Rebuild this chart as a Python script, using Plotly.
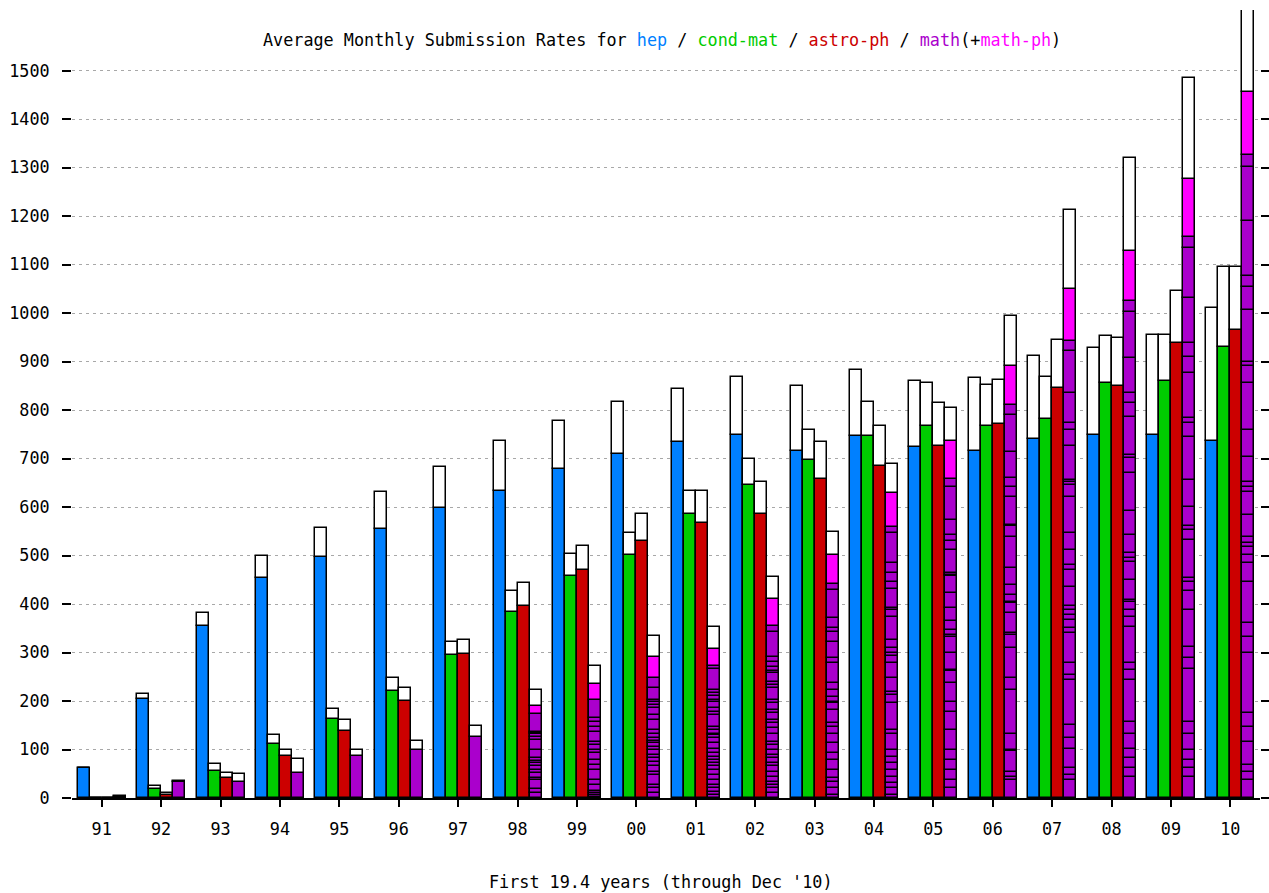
import plotly.graph_objects as go

# ---------------- data ----------------
years = ['91', '92', '93', '94', '95', '96', '97', '98', '99', '00',
         '01', '02', '03', '04', '05', '06', '07', '08', '09', '10']

hep_base = [62, 204, 354, 453, 496, 555, 599, 633, 678, 709,
            734, 748, 716, 746, 723, 716, 741, 749, 748, 737]
hep_total = [62, 214, 381, 499, 557, 631, 682, 737, 778, 817,
             844, 868, 849, 882, 859, 866, 912, 928, 955, 1010]

condmat_base = [0, 18, 56, 111, 162, 221, 294, 383, 457, 501,
                585, 646, 696, 746, 768, 768, 782, 856, 859, 931]
condmat_total = [0, 25, 70, 129, 184, 247, 321, 426, 503, 547,
                 633, 699, 758, 817, 856, 852, 869, 952, 955, 1094]

astro_base = [0, 6, 41, 87, 138, 201, 297, 395, 470, 529,
              567, 585, 658, 685, 726, 772, 845, 849, 939, 966]
astro_total = [0, 11, 52, 100, 160, 226, 325, 444, 520, 585,
               633, 651, 734, 768, 814, 862, 945, 948, 1046, 1094]

math_base = [3, 32, 32, 52, 87, 100, 125, 173, 203, 248,
             273, 355, 441, 558, 658, 811, 943, 1025, 1156, 1326]
math_with_mathph = [3, 32, 32, 52, 87, 100, 125, 190, 235, 290,
                    308, 410, 501, 628, 736, 890, 1050, 1129, 1277, 1456]
math_total = [5, 36, 49, 80, 98, 118, 149, 222, 273, 335,
              353, 456, 549, 688, 804, 994, 1212, 1319, 1485, 1720]

# cumulative boundaries between math subject classes inside the purple bar
math_subject_bounds = [
    [], [], [], [], [], [], [],
    [10, 18, 37, 42, 51, 58, 65, 73, 77, 82, 99, 120, 126, 132, 135, 137],
    [3, 7, 11, 15, 27, 37, 58, 68, 78, 92, 99, 109, 116, 137, 147, 157, 164, 166],
    [10, 20, 27, 47, 54, 65, 75, 82, 89, 99, 106, 113, 118, 123, 133, 140, 161,
     171, 185, 192, 199, 203, 226],
    [6, 13, 20, 27, 37, 47, 58, 65, 72, 78, 85, 92, 102, 113, 123, 129, 133, 140,
     147, 171, 178, 185, 197, 202, 210, 216, 223, 267],
    [10, 20, 27, 34, 44, 54, 65, 72, 82, 89, 99, 109, 116, 133, 144, 154, 161, 175,
     181, 195, 202, 226, 233, 240, 257, 261, 271, 281, 291, 342],
    [6, 20, 34, 41, 58, 78, 92, 113, 133, 147, 154, 182, 195, 199, 209, 223, 237,
     278, 288, 322, 343, 350, 371, 429],
    [6, 20, 30, 44, 58, 72, 85, 99, 133, 140, 195, 212, 219, 247, 278, 292, 298,
     309, 326, 374, 388, 391, 432, 446, 463, 484, 546],
    [20, 37, 58, 78, 99, 140, 178, 199, 237, 261, 264, 298, 333, 336, 347, 364,
     391, 422, 457, 460, 463, 512, 529, 542, 573, 642],
    [37, 44, 54, 96, 99, 133, 223, 247, 309, 336, 340, 381, 402, 405, 419, 439,
     474, 539, 560, 563, 621, 642, 659, 714, 790],
    [37, 48, 61, 102, 123, 151, 243, 254, 278, 340, 350, 367, 377, 388, 395, 436,
     470, 481, 512, 546, 621, 646, 652, 656, 725, 759, 773, 835, 921],
    [44, 61, 82, 102, 133, 157, 243, 264, 278, 353, 374, 388, 405, 408, 450, 487,
     494, 505, 542, 591, 670, 701, 707, 786, 814, 835, 907, 1003],
    [44, 61, 78, 99, 133, 157, 267, 288, 312, 388, 426, 446, 453, 532, 553, 560,
     601, 656, 745, 773, 783, 876, 910, 939, 1032, 1135],
    [37, 54, 68, 116, 147, 175, 298, 333, 360, 446, 484, 501, 518, 525, 539, 584,
     632, 642, 652, 704, 759, 855, 890, 900, 1006, 1053, 1077, 1189, 1302],
]

y_ticks = list(range(0, 1501, 100))

# ---------------- styling ----------------
C_HEP = '#0080ff'
C_COND = '#00cc00'
C_ASTRO = '#cc0000'
C_MATH = '#aa00cc'
C_MATHPH = '#ff00ff'
FONT = 'DejaVu Sans Mono'
FS = 16.8
BAR_W = 12 / 59.4
LINE = dict(color='black', width=1.5)

fig = go.Figure()
idx = list(range(len(years)))


def add_bar(xs, bases, heights, color):
    fig.add_trace(go.Bar(
        x=xs, y=heights, base=bases, width=BAR_W,
        marker=dict(color=color, line=LINE),
        showlegend=False, hoverinfo='skip'))


series = [
    (hep_base, hep_total, C_HEP, -1.5),
    (condmat_base, condmat_total, C_COND, -0.5),
    (astro_base, astro_total, C_ASTRO, 0.5),
]
for base_vals, tot_vals, col, off in series:
    xs = [i + off * BAR_W for i in idx]
    add_bar(xs, [0] * len(idx), base_vals, col)
    add_bar(xs, base_vals, [t - b for t, b in zip(tot_vals, base_vals)], 'white')

# math: purple split into subject classes
mx, mb, mh = [], [], []
for i in idx:
    bounds = [0] + [b for b in math_subject_bounds[i] if b < math_base[i]] + [math_base[i]]
    for lo, hi in zip(bounds[:-1], bounds[1:]):
        mx.append(i + 1.5 * BAR_W)
        mb.append(lo)
        mh.append(hi - lo)
add_bar(mx, mb, mh, C_MATH)
xs_m = [i + 1.5 * BAR_W for i in idx]
add_bar(xs_m, math_base, [p - b for p, b in zip(math_with_mathph, math_base)], C_MATHPH)
add_bar(xs_m, math_with_mathph, [t - p for t, p in zip(math_total, math_with_mathph)], 'white')

title_html = ('Average Monthly Submission Rates for '
              f'<span style="color:{C_HEP}">hep</span> / '
              f'<span style="color:{C_COND}">cond-mat</span> / '
              f'<span style="color:{C_ASTRO}">astro-ph</span> / '
              f'<span style="color:{C_MATH}">math</span>(+'
              f'<span style="color:{C_MATHPH}">math-ph</span>)')

fig.update_layout(
    width=1269, height=893,
    margin=dict(l=72, r=9, t=10, b=95),
    paper_bgcolor='white', plot_bgcolor='white',
    barmode='overlay', bargap=0,
    font=dict(family=FONT, size=FS, color='black'),
    showlegend=False,
    annotations=[
        dict(text=title_html, xref='paper', yref='paper', x=0.497, y=0.962,
             xanchor='center', yanchor='middle', showarrow=False,
             font=dict(family=FONT, size=FS, color='black')),
        dict(text="First 19.4 years (through Dec '10)", xref='paper', yref='paper',
             x=0.4958, y=-0.1066, xanchor='center', yanchor='middle', showarrow=False,
             font=dict(family=FONT, size=FS, color='black')),
    ],
)

fig.update_xaxes(
    range=[-0.5, len(years) - 0.5],
    tickmode='array', tickvals=idx, ticktext=years,
    ticks='outside', ticklen=7, tickwidth=1.5, tickcolor='black',
    showline=True, linecolor='black', linewidth=1.5,
    showgrid=False, zeroline=False,
    ticklabelstandoff=8,
    tickfont=dict(family=FONT, size=FS, color='black'),
)

fig.update_yaxes(
    range=[0, 1625],
    tickmode='array', tickvals=y_ticks, ticktext=[str(v) for v in y_ticks],
    ticks='outside', ticklen=9, tickwidth=2, tickcolor='black',
    mirror='ticks', showline=False,
    showgrid=True, gridcolor='#a8a8a8', gridwidth=1.2, griddash='3px,4px',
    zeroline=False,
    ticklabelstandoff=9,
    tickfont=dict(family=FONT, size=FS, color='black'),
)

fig.write_html('out.html',
               config={'displayModeBar': False},
               post_script="document.body.style.margin='0';document.body.style.overflow='hidden';")
